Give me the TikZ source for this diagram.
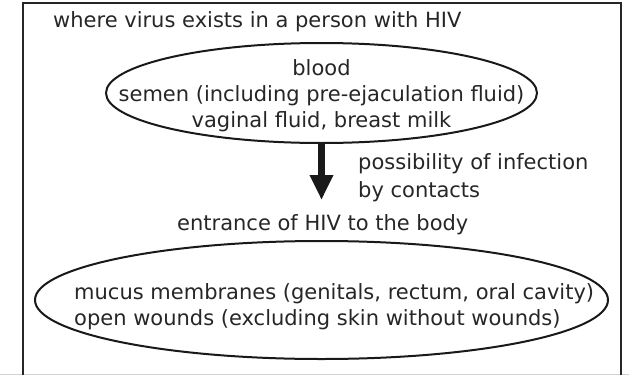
\documentclass[tikz,border=0pt]{standalone}
\usepackage{fontspec}
\setmainfont{DejaVu Sans}
\usetikzlibrary{shapes.geometric,arrows.meta}

\begin{document}
\begin{tikzpicture}[x=1pt,y=-1pt,>={Triangle[width=22pt,length=25pt]},
  every node/.style={inner sep=0pt,text=black!85,font=\fontsize{21}{26}\selectfont},
  ring/.style={draw=black!90,ellipse,line width=2pt}]
\pgfmathsetmacro\midx{321.5}
\useasboundingbox (0,0) rectangle (629,375);
% frame, open at the bottom
\draw[gray!35,line width=1pt] (0,374.5) -- (629,374.5);
\draw[black!85,line width=2.4pt] (23,375) |- (621,3) -- (621,375);

\node[anchor=base west] (title) at (53,27) {where virus exists in a person with HIV};

\node[ring,minimum width=431pt,minimum height=100pt] (srcring) at (\midx,93) {};
\node[align=center] (srctext) at (\midx,96)
{blood\\semen (including pre-ejaculation fluid)\\vaginal fluid, breast milk};

\coordinate (hivtip) at (\midx,200);
\draw[->,black!90,line width=7.5pt] (srcring.south) -- (hivtip);
\node[anchor=west,align=left,font=\fontsize{21}{28}\selectfont] (risk) at (358,177.5)
{possibility of infection\\by contacts};

\node[anchor=base west] (entry) at (177,230) {entrance of HIV to the body};

\node[ring,minimum width=573pt,minimum height=118pt] (entryring) at (\midx,300) {};
\node[anchor=west,align=left] (entrytext) at (74,306.5)
{mucus membranes (genitals, rectum, oral cavity)\\open wounds (excluding skin without wounds)};
\end{tikzpicture}
\end{document}
